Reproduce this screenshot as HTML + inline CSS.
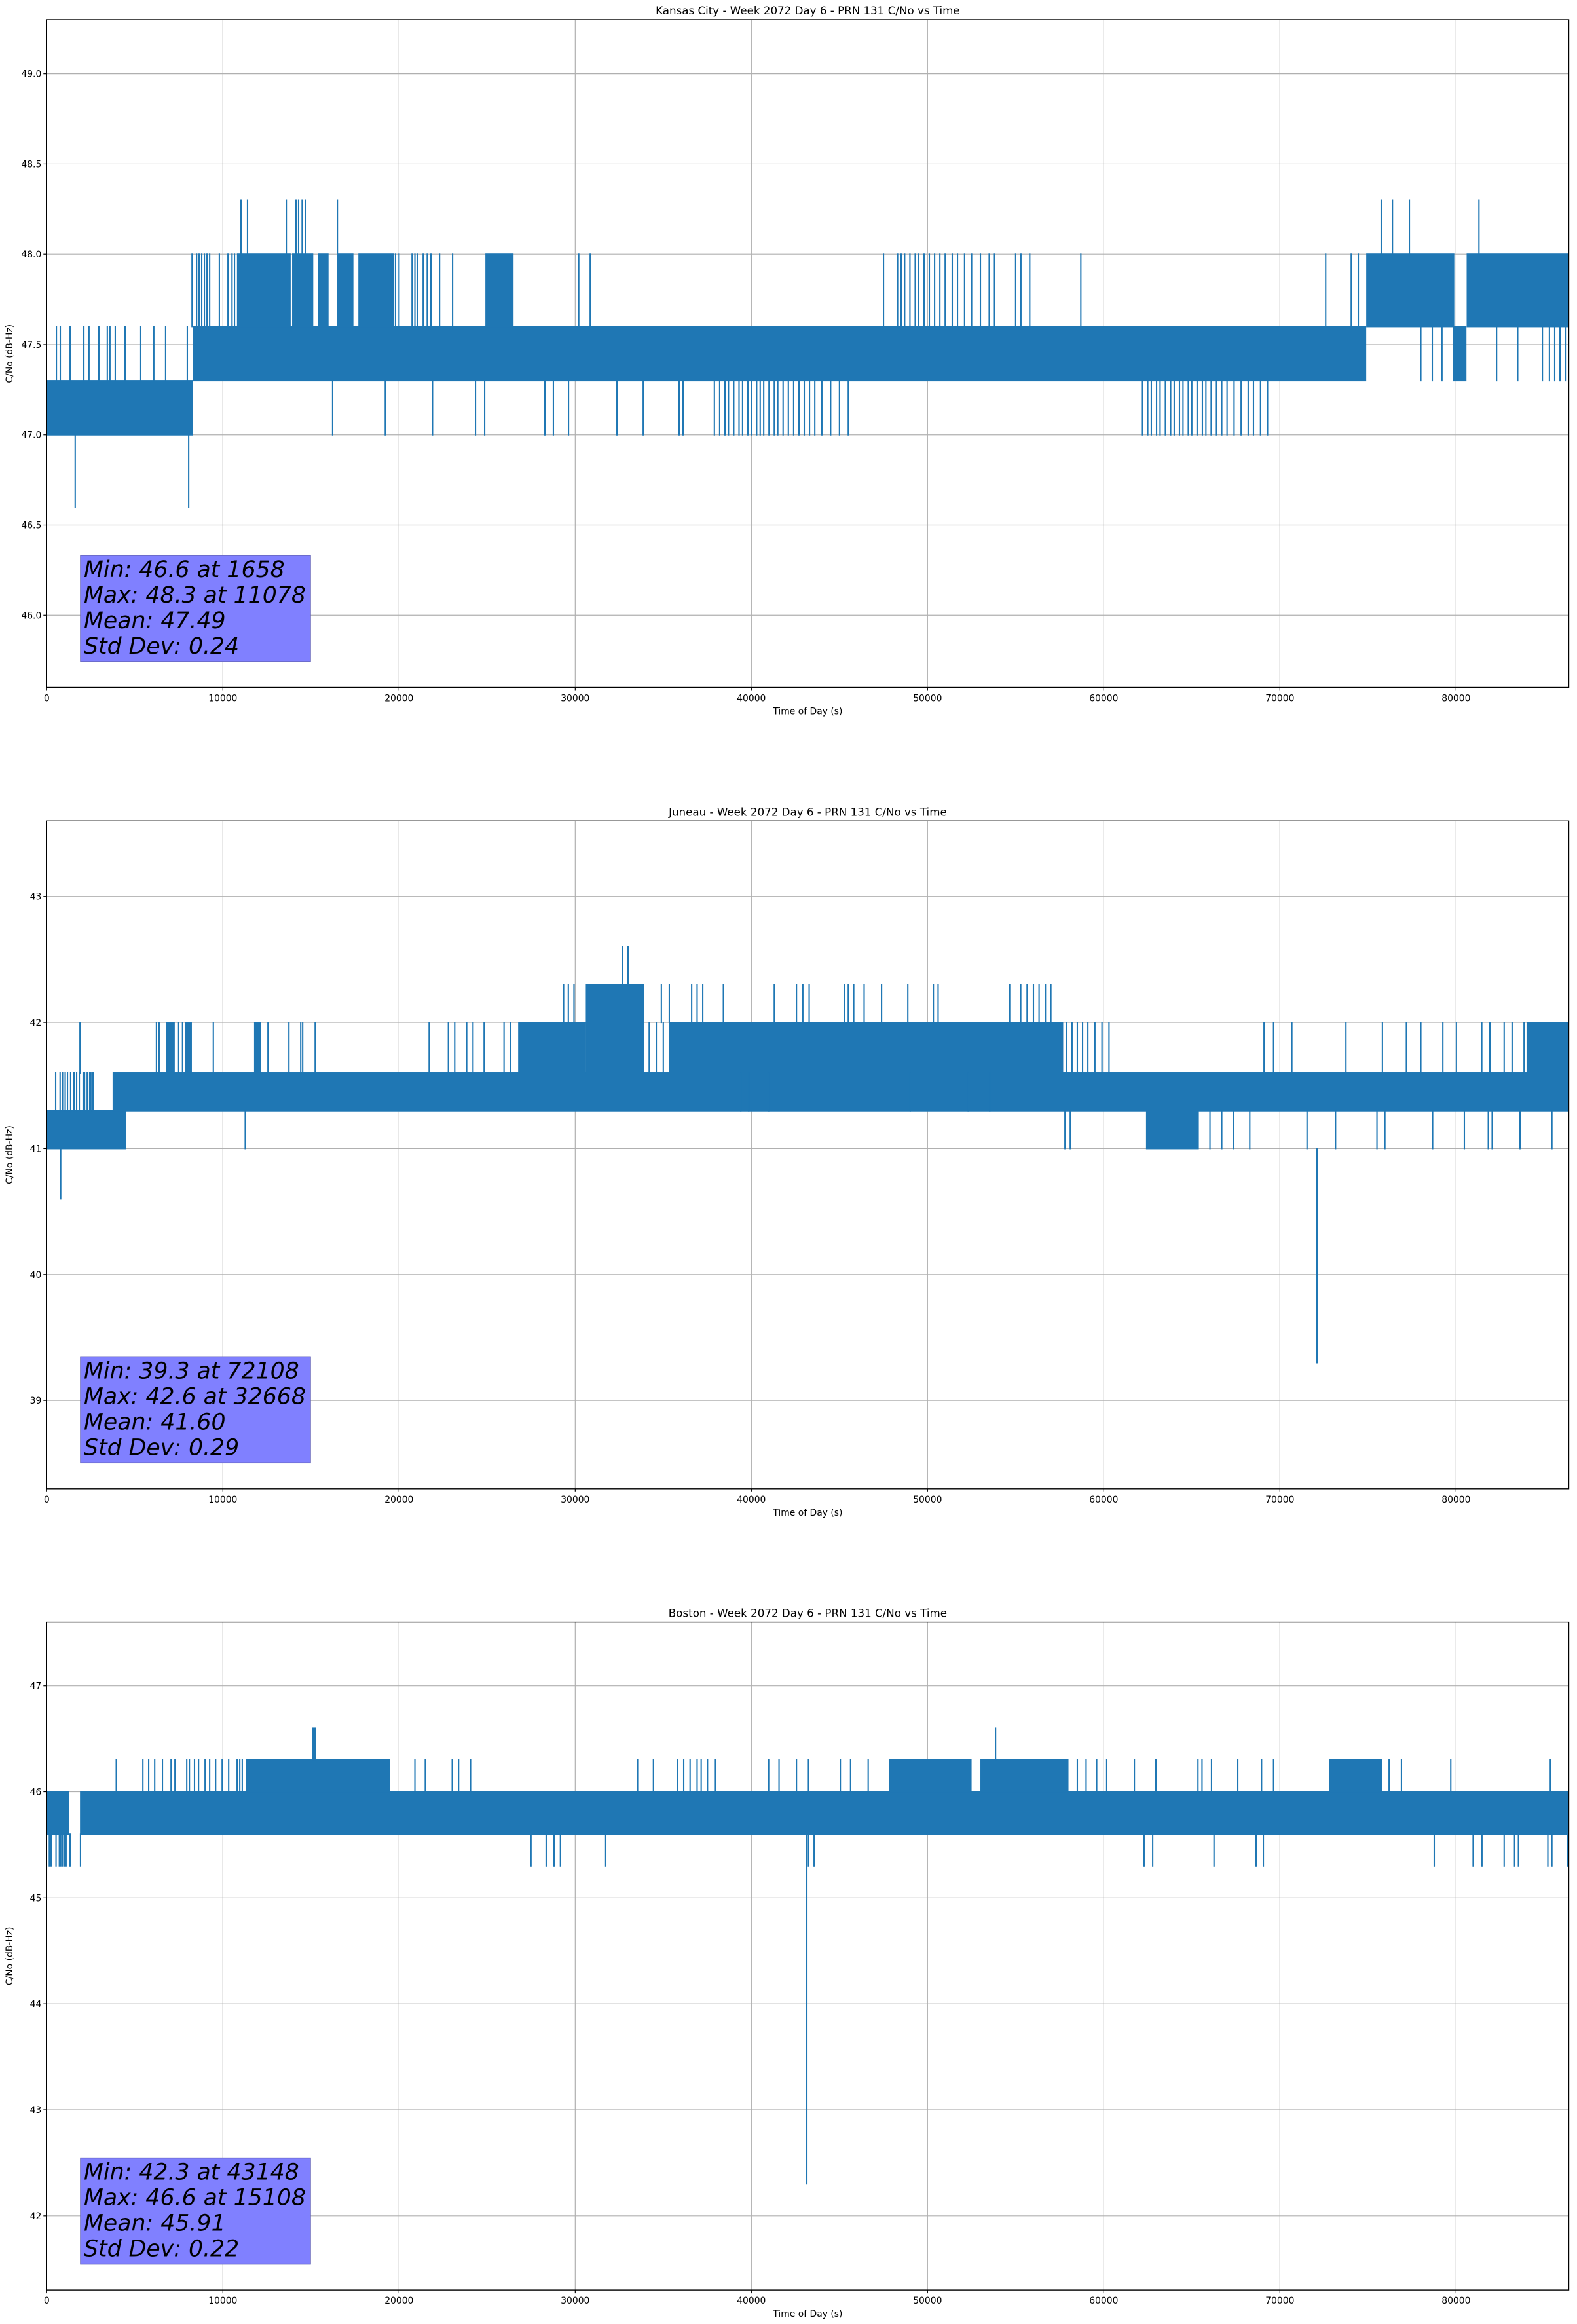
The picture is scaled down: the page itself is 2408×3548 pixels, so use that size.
<!DOCTYPE html>
<html><head><meta charset="utf-8"><title>C/No vs Time</title>
<style>
html,body{margin:0;padding:0;background:#fff;}
svg{display:block;font-family:"DejaVu Sans","Liberation Sans",sans-serif;}
</style></head>
<body>
<svg id="fig" width="2408" height="3548" viewBox="0 0 2408 3548" xmlns="http://www.w3.org/2000/svg"></svg>
<script>
// ---------- data ----------
const xTicks = [0,10000,20000,30000,40000,50000,60000,70000,80000];
const xMax = 86400;
const titles = ["Kansas City - Week 2072 Day 6 - PRN 131 C/No vs Time","Juneau - Week 2072 Day 6 - PRN 131 C/No vs Time","Boston - Week 2072 Day 6 - PRN 131 C/No vs Time"];
const yLimits = [[45.6,49.3],[38.3,43.6],[41.3,47.6]];
const yTicks = [[46.0,46.5,47.0,47.5,48.0,48.5,49.0],[39,40,41,42,43],[42,43,44,45,46,47]];
const yTickLabels = [["46.0","46.5","47.0","47.5","48.0","48.5","49.0"],["39","40","41","42","43"],["42","43","44","45","46","47"]];
const statsText = [
 ["Min: 46.6 at 1658","Max: 48.3 at 11078","Mean: 47.49","Std Dev: 0.24"],
 ["Min: 39.3 at 72108","Max: 42.6 at 32668","Mean: 41.60","Std Dev: 0.29"],
 ["Min: 42.3 at 43148","Max: 46.6 at 15108","Mean: 45.91","Std Dev: 0.22"]];

// bands: [tStart, tEnd, low, high] — dense oscillation regions
const kcBands = [[0,8300,47.0,47.3],[8300,74900,47.3,47.6],[10800,13850,47.6,48.0],[13930,15130,47.6,48.0],[15410,16000,47.6,48.0],[16480,17410,47.6,48.0],[17690,19700,47.6,48.0],[24900,26500,47.6,48.0],[74900,79900,47.6,48.0],[80600,86400,47.6,48.0],[79830,80590,47.3,47.6]];
// spikes: [from, to, [times]]
const kcSpikes = [
 [47.3,47.6,[550,770,1330,2110,2400,2960,3440,3590,3890,4450,5340,6080,6750,7980]],
 [46.6,47.0,[1617,8060]],
 [47.6,48.0,[8250,8510,8650,8800,8950,9100,9250,9800,10290,10520,10660,19800,20000,20740,20900,21030,21370,21600,21810,22300,23040,30200,30850,47500,48300,48500,48700,49000,49300,49500,49800,50100,50400,50700,51000,51400,51700,52100,52500,53000,53500,53800,55000,55300,55800,58700,72600,74050,74450]],
 [48.0,48.3,[11030,11400,13600,14150,14300,14500,14680,16500,75750,76390,77350,81300]],
 [47.0,47.3,[16230,19220,21900,24340,24860,28280,28760,29620,32370,33860,35900,36120,37900,38200,38500,38700,39000,39300,39500,39800,40000,40300,40500,40700,41000,41300,41500,41800,42100,42400,42700,43000,43300,43600,44000,44500,45000,45500,62200,62500,62700,63000,63200,63500,63800,64000,64300,64500,64800,65000,65300,65600,65800,66100,66400,66700,67000,67400,67800,68200,68500,68900,69300]],
 [47.3,47.6,[78000,78650,79200,82300,83500,84900,85300,85600,85900,86200]]
];

const junBands = [[0,4500,41.0,41.3],[4500,60630,41.3,41.6],[6790,7270,41.6,42.0],[7860,8240,41.6,42.0],[11770,12150,41.6,42.0],[26760,30600,41.6,42.0],[30600,33900,42.0,42.3],[30600,33900,41.6,42.0],[35340,57700,41.6,42.0],[60630,86400,41.3,41.6],[62400,65400,41.0,41.3],[84000,86400,41.6,42.0],[3740,4520,41.3,41.6]];
const junSpikes = [
 [41.3,41.6,[510,760,900,1050,1180,1360,1550,1700,1850,2070,2150,2300,2440,2510,2630]],
 [41.6,42.0,[1890,6230,6380,7490,7710,9460,12560,13750,14420,14530,15240,21710,22800,23160,23840,24200,24830,25960,26320,34200,34600,35000,57900,58200,58500,58800,59100,59500,59900,60300,69100,69640,70680,73750,75820,77180,78000,79250,80020,81460,81920,82730,83180,83860]],
 [42.0,42.3,[29340,29610,29930,34890,35340,36610,36920,37240,38410,41300,42560,42920,43280,45270,45500,45810,46400,47390,48880,50330,50600,54660,55290,55650,56010,56330,56690,57000]],
 [42.3,42.6,[32680,33000]],
 [41.3,41.6,[39400,39850,40980,49020,52310,53530]],
 [41.0,41.3,[11270,57800,58100,66030,66700,67380,68290,71540,73160,75510,75960,78670,80470,81830,82050,83630,85440]],
 [39.3,41.0,[72108]],
 [40.6,41.0,[795]]
];

const bosBands = [[0,1290,45.6,46.0],[1890,86400,45.6,46.0],[11300,19500,46.0,46.3],[47800,52500,46.0,46.3],[53000,58000,46.0,46.3],[72800,75800,46.0,46.3],[15050,15290,46.3,46.6]];
const bosSpikes = [
 [46.0,46.3,[3950,5460,5790,6130,6570,7060,7280,7950,8100,8390,8620,8990,9250,9590,9960,10330,10810,10960,11100,20900,21490,23020,23380,24060,33540,34440,35790,36160,36520,36920,37150,37510,37960,40980,41570,42560,43240,45050,45630,46630,58500,59000,59600,60170,61740,62960,65350,65580,66120,67610,68960,69640,76200,76900,79700,85350]],
 [45.3,45.6,[150,250,530,720,800,900,1000,1100,1300,1350,1920,27490,28350,28800,29160,31730,43240,43560,62290,62780,66260,68650,69060,78760,80970,81470,82730,83320,83540,85210,85440,86340]],
 [46.3,46.6,[53860]],
 [42.3,45.6,[43148]]
];

const chartBands = [kcBands, junBands, bosBands];
const chartSpikes = [kcSpikes, junSpikes, bosSpikes];
const chartNames = ["kansas-city","juneau","boston"];

// ---------- layout ----------
const NS = "http://www.w3.org/2000/svg";
const svg = document.getElementById('fig');
const L = 71.3, R = 2395.5;
const tops = [30, 1253.3, 2476.6];
const H = 1019.5;
const BLUE = "#1f77b4";

function mk(tag, attrs, parent){
  const e = document.createElementNS(NS, tag);
  for (const k in attrs) e.setAttribute(k, attrs[k]);
  (parent||svg).appendChild(e);
  return e;
}
function xScale(t){ return L + (t/xMax)*(R-L); }

for (let c=0;c<3;c++){
  const top = tops[c], bot = top + H;
  const [y0,y1] = yLimits[c];
  const yScale = v => bot - (v-y0)/(y1-y0)*H;
  const g = mk('g',{});
  
  

  const grid = mk('g',{stroke:'#b0b0b0','stroke-width':'1.2'},g);
  
  
  xTicks.forEach(t=>{ mk('line',{x1:xScale(t),x2:xScale(t),y1:top,y2:bot},grid); });
  yTicks[c].forEach(v=>{ mk('line',{x1:L,x2:R,y1:yScale(v),y2:yScale(v)},grid); });

  const clip = mk('clipPath',{id:'clip'+c},g);
  mk('rect',{x:L,y:top,width:R-L,height:H},clip);
  const series = mk('g',{'clip-path':'url(#clip'+c+')'},g);
  
  
  chartBands[c].forEach(b=>{
    const r = mk('rect',{x:xScale(b[0]),y:yScale(b[3])-1,width:Math.max(2,xScale(b[1])-xScale(b[0])),height:yScale(b[2])-yScale(b[3])+2,fill:BLUE},series);
    
    
  });
  chartSpikes[c].forEach(s=>{
    s[2].forEach(t=>{
      const l = mk('line',{x1:xScale(t),x2:xScale(t),y1:yScale(s[0])+1,y2:yScale(s[1])-1,stroke:BLUE,'stroke-width':'2.1'},series);
      
      
    });
  });

  const bx = mk('g',{},g);
  
  
  mk('rect',{x:123,y:bot-39.5-162,width:351,height:162,fill:'#8080ff',stroke:'#6666bb','stroke-width':'1.5'},bx);
  statsText[c].forEach((s,i)=>{
    const tx = mk('text',{x:128,y:bot-39.5-162+33+i*39,'font-size':'34.7','font-style':'italic',fill:'#000'},bx);
    tx.textContent = s;
  });

  const sp = mk('rect',{x:L,y:top,width:R-L,height:H,fill:'none',stroke:'#000','stroke-width':'1.4'},g);
  
  

  const xa = mk('g',{'font-size':'13.9',fill:'#000','text-anchor':'middle'},g);
  
  
  xTicks.forEach(t=>{
    mk('line',{x1:xScale(t),x2:xScale(t),y1:bot,y2:bot+5,stroke:'#000','stroke-width':'1.2'},xa);
    const tx = mk('text',{x:xScale(t),y:bot+21},xa); tx.textContent = String(t);
  });
  const xl = mk('text',{x:(L+R)/2,y:bot+41,'font-size':'13.9','text-anchor':'middle'},g);
  xl.textContent = 'Time of Day (s)';
  
  

  const ya = mk('g',{'font-size':'13.9',fill:'#000','text-anchor':'end'},g);
  
  
  yTicks[c].forEach((v,i)=>{
    mk('line',{x1:L-5,x2:L,y1:yScale(v),y2:yScale(v),stroke:'#000','stroke-width':'1.2'},ya);
    const tx = mk('text',{x:L-8,y:yScale(v)+5},ya); tx.textContent = yTickLabels[c][i];
  });
  const yl = mk('text',{x:0,y:0,'font-size':'13.9','text-anchor':'middle',transform:'translate(19,'+(top+H/2)+') rotate(-90)'},g);
  yl.textContent = 'C/No (dB-Hz)';
  
  

  const tt = mk('text',{x:(L+R)/2,y:top-8,'font-size':'16.7','text-anchor':'middle'},g);
  tt.textContent = titles[c];
  
  
}
</script>
</body></html>
